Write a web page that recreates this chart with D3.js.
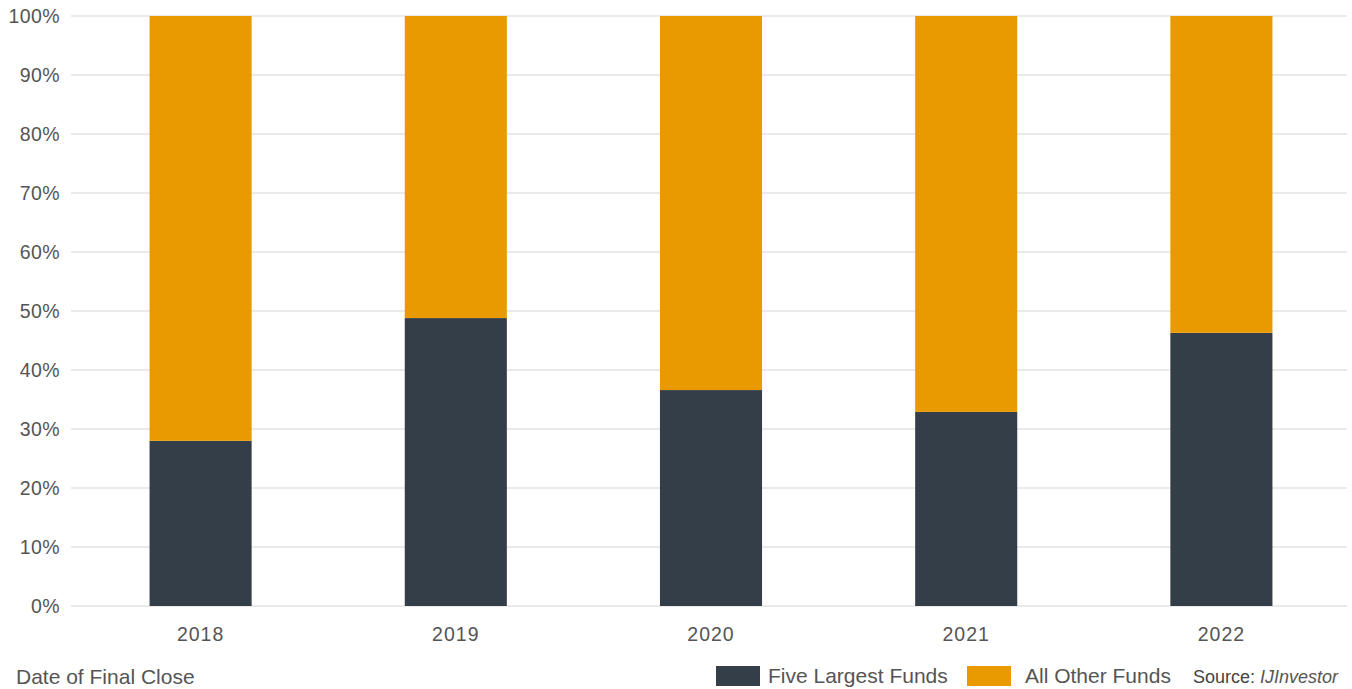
<!DOCTYPE html>
<html><head><meta charset="utf-8">
<script src="https://cdn.jsdelivr.net/npm/d3@7"></script>
<style>
body{margin:0;background:#fff;}
text{font-family:"Liberation Sans",Arial,sans-serif;}
</style></head>
<body><svg id="c" width="1352" height="689"></svg>
<script>
const years = ["2018","2019","2020","2021","2022"];
const fiveLargest = [28.0, 48.8, 36.6, 32.9, 46.3];
const allOther = [72.0, 51.2, 63.4, 67.1, 53.7];
const yTicks = [0,10,20,30,40,50,60,70,80,90,100];
const seriesNames = ["Five Largest Funds","All Other Funds"];
const colors = ["#343e48","#e89a00"];

const svg = d3.select("#c");
const x = d3.scaleBand().domain(years).range([73,1349]).paddingInner(0.6).paddingOuter(0.3);
const y = d3.scaleLinear().domain([0,100]).range([606,16]);

// gridlines
svg.append("g").selectAll("line").data(yTicks).join("line")
  .attr("x1",71).attr("x2",1347)
  .attr("y1",d=>y(d)).attr("y2",d=>y(d))
  .attr("stroke","#e3e3e3").attr("stroke-width",1.5);

// y axis labels
const yAxis = d3.axisLeft(y).tickValues(yTicks).tickFormat(d=>d+"%").tickSize(0).tickPadding(0);
const ya = svg.append("g").attr("transform","translate(60,0)").call(yAxis);
ya.select(".domain").remove();
ya.selectAll("text").attr("font-size",19.5).attr("fill","#555").attr("dy","0.35em")
  .attr("letter-spacing","0.4px")
  .style("font-family","'Liberation Sans',Arial,sans-serif");

// stacked data
const data = years.map((yr,i)=>({year:yr, five:fiveLargest[i], other:allOther[i]}));
const stack = d3.stack().keys(["five","other"]);
const layers = stack(data);
svg.append("g").selectAll("g").data(layers).join("g")
  .attr("fill",(d,i)=>colors[i])
  .selectAll("rect").data(d=>d).join("rect")
  .attr("x",d=>x(d.data.year))
  .attr("width",x.bandwidth())
  .attr("y",d=>y(d[1]))
  .attr("height",d=>y(d[0])-y(d[1]));

// x axis labels
const xAxis = d3.axisBottom(x).tickSize(0).tickPadding(0);
const xa = svg.append("g").attr("transform","translate(0,634)").call(xAxis);
xa.select(".domain").remove();
xa.selectAll("text").attr("font-size",19.5).attr("fill","#555").attr("dy","0.35em")
  .attr("letter-spacing","1px")
  .style("font-family","'Liberation Sans',Arial,sans-serif");

// axis title
svg.append("text").attr("x",16).attr("y",684).attr("font-size",21).attr("fill","#555")
  .text("Date of Final Close");

// legend
const legend = [{x:716, tx:768},{x:967, tx:1025}];
legend.forEach((l,i)=>{
  svg.append("rect").attr("x",l.x).attr("y",666).attr("width",44).attr("height",20).attr("fill",colors[i]);
  svg.append("text").attr("x",l.tx).attr("y",683).attr("font-size",21).attr("fill","#555").text(seriesNames[i]);
});
const src = svg.append("text").attr("x",1193).attr("y",683).attr("font-size",18).attr("fill","#444");
src.append("tspan").text("Source: ");
src.append("tspan").attr("font-style","italic").attr("fill","#555").text("IJInvestor");
</script></body></html>
